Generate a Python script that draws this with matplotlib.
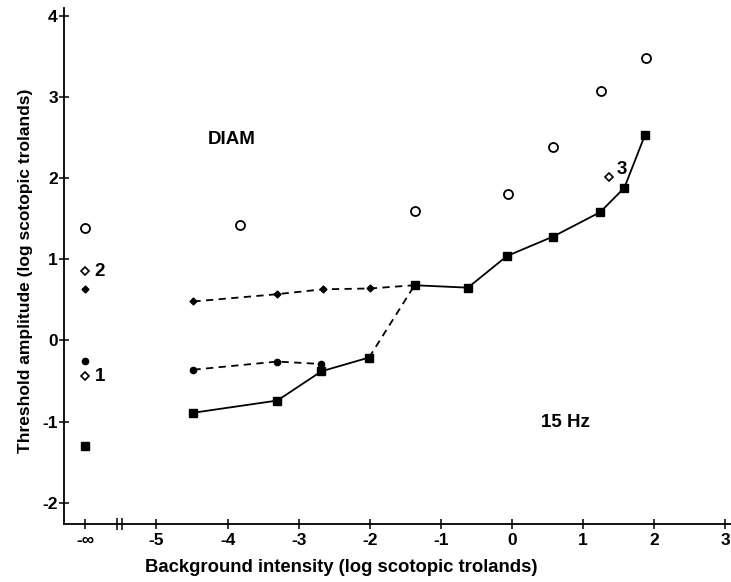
import matplotlib
matplotlib.use("Agg")
import matplotlib.pyplot as plt
import numpy as np

# ---- data (log scotopic trolands) ----
NEG_INF_POS = -6.0  # plotting position used for "-inf" background

# open circles
circ_x = [-3.83, -1.37, -0.05, 0.58, 1.25, 1.89]
circ_y = [1.42, 1.60, 1.80, 2.38, 3.07, 3.48]

# filled squares (main threshold curve)
sq_x = [-4.48, -3.30, -2.68, -2.01, -1.37, -0.62, -0.07, 0.58, 1.24, 1.58, 1.87]
sq_y = [-0.89, -0.74, -0.38, -0.21, 0.68, 0.65, 1.04, 1.28, 1.58, 1.88, 2.53]

# filled diamonds (upper dashed)
dia_x = [-4.48, -3.30, -2.66, -2.00]
dia_y = [0.48, 0.57, 0.63, 0.64]

# small filled circles (lower dashed)
dot_x = [-4.48, -3.30, -2.68]
dot_y = [-0.36, -0.26, -0.29]

# values at -inf background
inf_circle = 1.38
inf_open_dia = [0.85, -0.44]
inf_open_dia_labels = ["2", "1"]
inf_filled_dia = 0.63
inf_dot = -0.25
inf_square = -1.30

# open diamond "3"
d3_x, d3_y = 1.37, 2.01

xticks = [NEG_INF_POS, -5, -4, -3, -2, -1, 0, 1, 2, 3]
xticklabels = ["-\u221e", "-5", "-4", "-3", "-2", "-1", "0", "1", "2", "3"]
yticks = [-2, -1, 0, 1, 2, 3, 4]
yticklabels = ["-2", "-1", "0", "1", "2", "3", "4"]

plt.rcParams['font.family'] = ['Liberation Sans', 'DejaVu Sans']
plt.rcParams['font.weight'] = 'bold'

fig = plt.figure(figsize=(7.31, 5.82), dpi=100)
ax = fig.add_axes([0.0876, 0.0997, 0.9124, 0.886])
ax.set_xlim(-6.3, 3.08)
ax.set_ylim(-2.26, 4.09)

lw = 1.3
# solid main curve, with dashed bridge between -2.01 and -1.37
ax.plot(sq_x[:4], sq_y[:4], '-', color='black', lw=lw)
ax.plot(sq_x[3:5], sq_y[3:5], '--', color='black', lw=lw, dashes=(4, 3))
ax.plot(sq_x[4:], sq_y[4:], '-', color='black', lw=lw)
ax.plot(sq_x, sq_y, 's', color='black', ms=5.5, ls='none')

# upper dashed diamonds, joining the square at -1.37
ax.plot(dia_x + [sq_x[4]], dia_y + [sq_y[4]], '--', color='black', lw=lw, dashes=(4, 3))
ax.plot(dia_x, dia_y, 'D', color='black', ms=3.5, ls='none')

# lower dashed dots
ax.plot(dot_x, dot_y, '--', color='black', lw=lw, dashes=(4, 3))
ax.plot(dot_x, dot_y, 'o', color='black', ms=4.5, ls='none')

# open circles
ax.plot(circ_x, circ_y, 'o', mfc='white', mec='black', mew=1.3, ms=6.5, ls='none')

# -inf column
ax.plot([NEG_INF_POS], [inf_circle], 'o', mfc='white', mec='black', mew=1.3, ms=6.5)
ax.plot([NEG_INF_POS] * len(inf_open_dia), inf_open_dia, 'D', mfc='white', mec='black', mew=1.2, ms=4.5, ls='none')
for yv, lab in zip(inf_open_dia, inf_open_dia_labels):
    ax.text(NEG_INF_POS + 0.13, yv, lab, fontsize=13.5, fontweight='bold', va='center', ha='left')
ax.plot([NEG_INF_POS], [inf_filled_dia], 'D', color='black', ms=3.5)
ax.plot([NEG_INF_POS], [inf_dot], 'o', color='black', ms=4.5)
ax.plot([NEG_INF_POS], [inf_square], 's', color='black', ms=5.5)

# open diamond 3
ax.plot([d3_x], [d3_y], 'D', mfc='white', mec='black', mew=1.2, ms=4.5)
ax.text(d3_x + 0.1, d3_y + 0.1, "3", fontsize=13.5, fontweight='bold', va='center', ha='left')

ax.text(-4.28, 2.48, "DIAM", fontsize=13.5, fontweight='bold', va='center', ha='left')
ax.text(0.41, -1.01, "15 Hz", fontsize=13.5, fontweight='bold', va='center', ha='left')

for s in ['top', 'right']:
    ax.spines[s].set_visible(False)
for s in ['left', 'bottom']:
    ax.spines[s].set_linewidth(1.3)

ax.set_xticks(xticks)
ax.set_xticklabels(xticklabels)
ax.set_yticks(yticks)
ax.set_yticklabels(yticklabels)
# axis-break marks on the x axis
ax.set_xticks([-5.55, -5.48], minor=True)
ax.tick_params(axis='x', which='major', direction='inout', length=7, width=1.1,
               labelsize=12.5, pad=3)
ax.tick_params(axis='y', which='major', direction='inout', length=7, width=1.1,
               labelsize=12.5, pad=1)
ax.tick_params(axis='x', which='minor', direction='inout', length=8, width=1.1)
for t in ax.get_xticklabels() + ax.get_yticklabels():
    t.set_fontweight('bold')

xl = ax.set_xlabel("Background intensity (log scotopic trolands)", fontsize=13.3, fontweight='bold')
xl.set_verticalalignment('center')
ax.xaxis.set_label_coords(0.415, -0.084)
yl = ax.set_ylabel("Threshold amplitude (log scotopic trolands)", fontsize=12.5, fontweight='bold')
ax.yaxis.set_label_coords(-0.047, 0.49)

fig.savefig("out.png", dpi=100)
